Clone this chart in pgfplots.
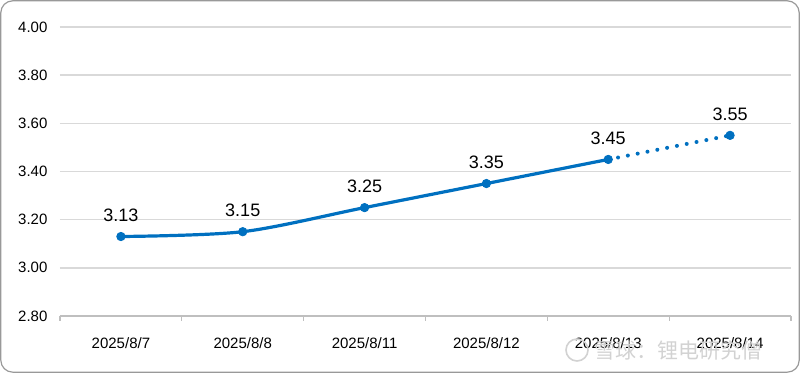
\documentclass[border=0pt]{standalone}
\usepackage{pgfplots}
\pgfplotsset{compat=1.18}
\usepackage{fontspec}
\setmainfont{Liberation Sans}
\newfontfamily\cjk{Noto Sans CJK SC}
\definecolor{lineblue}{RGB}{0,112,192}
\definecolor{gridgray}{RGB}{217,217,217}
\definecolor{axisgray}{RGB}{191,191,191}
\begin{document}
\begin{tikzpicture}[x=1pt,y=1pt]
\path[use as bounding box] (0,0) rectangle (400,186.5);
\draw[draw=gray!80, line width=0.6pt, rounded corners=6pt] (0.4,0.4) rectangle (399.6,186.1);
\begin{axis}[
  at={(30pt,28.5pt)}, anchor=south west,
  scale only axis, width=365.5pt, height=144.5pt,
  xmin=-0.5, xmax=5.5, ymin=2.8, ymax=4.0,
  ytick={2.8,3.0,3.2,3.4,3.6,3.8,4.0},
  yticklabel style={/pgf/number format/fixed, /pgf/number format/fixed zerofill, /pgf/number format/precision=2, xshift=1.5pt},
  /pgf/number format/assume math mode=true,
  xtick={0,...,5},
  xticklabels={2025/8/7,2025/8/8,2025/8/11,2025/8/12,2025/8/13,2025/8/14},
  minor xtick={-0.5,0.5,...,5.5},
  axis x line*=bottom,
  axis y line*=left,
  x axis line style={draw=axisgray, line width=0.7pt, -},
  y axis line style={draw=none},
  xtick style={draw=none},
  ytick style={draw=none},
  minor x tick style={draw=axisgray, line width=0.6pt},
  minor tick length=2.5pt,
  tick align=outside,
  ymajorgrids, major grid style={gridgray, line width=0.7pt},
  ticklabel style={font=\fontsize{7.5}{9}\selectfont, text=black},
  xticklabel style={yshift=-3pt},
  clip=false,
]
\addplot[lineblue, line width=1.6pt, smooth, no marks] coordinates {
  (0,3.13) (1,3.15) (2,3.25) (3,3.35) (4,3.45)};
\addplot[lineblue, line width=2pt, line cap=round, dash pattern=on 0pt off 5pt, no marks] coordinates {
  (4,3.45) (5,3.55)};
\addplot[only marks, mark=*, mark size=2.1pt, lineblue,
  nodes near coords, point meta=explicit symbolic,
  every node near coord/.style={anchor=south, yshift=4pt, font=\fontsize{9}{11}\selectfont, text=black}]
  coordinates {
  (0,3.13) [3.13] (1,3.15) [3.15] (2,3.25) [3.25] (3,3.35) [3.35] (4,3.45) [3.45] (5,3.55) [3.55]};
\end{axis}
\draw[gray!35, line width=0.8pt] (288.5,11.5) circle (5.5pt);
\node[text=gray!35, font=\cjk\fontsize{10.5}{12}\selectfont, anchor=west, inner sep=0pt] at (297,11.5) {雪球：锂电研究僧};
\end{tikzpicture}
\end{document}
